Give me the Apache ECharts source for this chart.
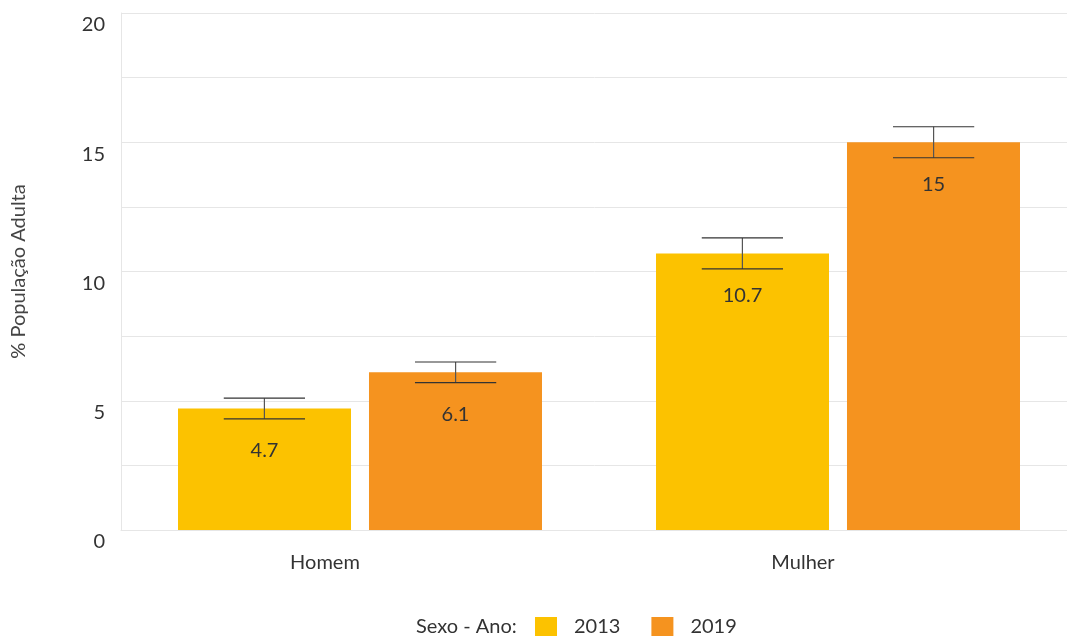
<!DOCTYPE html>
<html>
<head>
<meta charset="utf-8">
<script src="https://cdn.jsdelivr.net/npm/echarts@6/dist/echarts.min.js"></script>
<style>
  html, body { margin: 0; padding: 0; background: #fff; }
  #chart { width: 1067px; height: 636px; }
</style>
</head>
<body>
<div id="chart"></div>
<script>
var categories = ["Homem", "Mulher"];
var years = ["2013", "2019"];
var values2013 = [4.7, 10.7];
var values2019 = [6.1, 15];
var low2013 = [4.3, 10.1];
var high2013 = [5.1, 11.3];
var low2019 = [5.7, 14.4];
var high2019 = [6.5, 15.6];
var yTicks = [0, 5, 10, 15, 20];

var colors = ["#FCC200", "#F5931F"];
var font = "Lato";

// error bar drawn around the bar of the given offset
function errorBar(offset) {
  return function (params, api) {
    var c = api.value(0);
    var lo = api.coord([c, api.value(1)]);
    var hi = api.coord([c, api.value(2)]);
    var w = api.size([1, 0])[0];
    var x = lo[0] + w * offset;
    var half = w * 0.085;
    var style = { stroke: "#333", lineWidth: 1.2 };
    return {
      type: "group",
      children: [
        { type: "line", shape: { x1: x, y1: hi[1], x2: x, y2: lo[1] }, style: { stroke: "#555", lineWidth: 1.2 } },
        { type: "line", shape: { x1: x - half, y1: hi[1], x2: x + half, y2: hi[1] }, style: style },
        { type: "line", shape: { x1: x - half, y1: lo[1], x2: x + half, y2: lo[1] }, style: style }
      ]
    };
  };
}

var chart = echarts.init(document.getElementById("chart"));
var options = {
  animation: false,
  color: colors,
  textStyle: { fontFamily: font, color: "#333" },
  grid: { left: 121, top: 13, width: 956, height: 517, containLabel: false, outerBoundsMode: "none" },
  legend: {
    data: years,
    left: 535,
    top: 617,
    padding: 0,
    itemWidth: 22,
    itemHeight: 20,
    itemGap: 31,
    icon: "rect",
    textStyle: { fontSize: 20, color: "#333", padding: [0, 0, 0, 12] }
  },
  graphic: [{
    type: "text",
    left: 416,
    top: 617,
    style: { text: "Sexo - Ano:", font: "20px " + font, fill: "#333" }
  }],
  xAxis: {
    type: "category",
    data: categories,
    axisTick: { show: false },
    axisLine: { show: true, lineStyle: { color: "#e6e6e6" } },
    axisLabel: { fontSize: 20, color: "#333", margin: 23, padding: [0, 70, 0, 0] }
  },
  yAxis: {
    type: "value",
    min: 0,
    max: 20,
    interval: 2.5,
    name: "% População Adulta",
    nameLocation: "middle",
    nameGap: 92,
    nameTextStyle: { fontSize: 20, color: "#444" },
    axisLine: { show: true, lineStyle: { color: "#e6e6e6" } },
    axisTick: { show: false },
    axisLabel: {
      fontSize: 20,
      color: "#333",
      margin: 16,
      verticalAlign: "top",
      padding: [2, 0, 0, 0],
      formatter: function (v) { return yTicks.indexOf(v) >= 0 ? String(v) : ""; }
    },
    splitLine: { show: true, lineStyle: { color: "#e6e6e6" } }
  },
  series: [
    {
      name: "2013",
      type: "bar",
      data: values2013,
      barWidth: 173,
      barGap: "10.4%",
      label: { show: true, position: "insideTop", distance: 32, fontSize: 20, color: "#333" }
    },
    {
      name: "2019",
      type: "bar",
      data: values2019,
      barWidth: 173,
      barGap: "10.4%",
      label: { show: true, position: "insideTop", distance: 32, fontSize: 20, color: "#333" }
    },
    {
      type: "custom",
      renderItem: errorBar(-0.2),
      data: categories.map(function (c, i) { return [i, low2013[i], high2013[i]]; }),
      z: 5,
      silent: true
    },
    {
      type: "custom",
      renderItem: errorBar(0.2),
      data: categories.map(function (c, i) { return [i, low2019[i], high2019[i]]; }),
      z: 5,
      silent: true
    }
  ]
};
chart.setOption(options, true);
</script>
</body>
</html>
